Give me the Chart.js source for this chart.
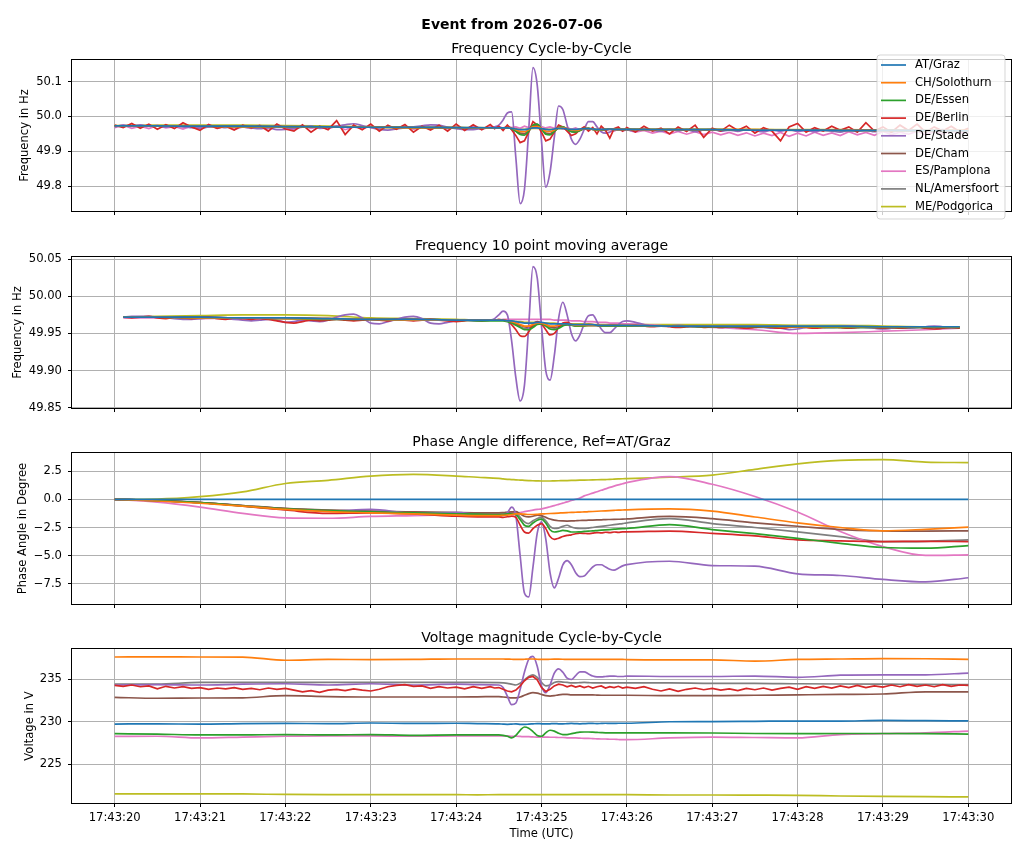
<!DOCTYPE html>
<html>
<head>
<meta charset="utf-8">
<script src="https://cdn.jsdelivr.net/npm/chart.js@4.4.1/dist/chart.umd.min.js"></script>
<style>
  html, body { margin: 0; padding: 0; background: #fff; }
  body { width: 1024px; height: 853px; position: relative; overflow: hidden; }
  canvas { position: absolute; left: 0; }
</style>
</head>
<body>
<canvas id="c1" width="1024" height="224" style="top:0px"></canvas>
<canvas id="c2" width="1024" height="194" style="top:227px"></canvas>
<canvas id="c3" width="1024" height="194" style="top:423px"></canvas>
<canvas id="c4" width="1024" height="234" style="top:619px"></canvas>
<script>
// stations, in plotting order
var STATIONS = ['AT/Graz', 'CH/Solothurn', 'DE/Essen', 'DE/Berlin', 'DE/Stade',
                'DE/Cham', 'ES/Pamplona', 'NL/Amersfoort', 'ME/Podgorica'];

// time in seconds after 17:43:00
var TICK_SECONDS = [20, 21, 22, 23, 24, 25, 26, 27, 28, 29, 30];
var TICK_LABELS = ['17:43:20', '17:43:21', '17:43:22', '17:43:23', '17:43:24', '17:43:25',
                   '17:43:26', '17:43:27', '17:43:28', '17:43:29', '17:43:30'];

var TIME_FINE = [
  20.0, 20.1, 20.2, 20.3, 20.4, 20.5, 20.6, 20.7, 20.8, 20.9,
  21.0, 21.1, 21.2, 21.3, 21.4, 21.5, 21.6, 21.7, 21.8, 21.9,
  22.0, 22.1, 22.2, 22.3, 22.4, 22.5, 22.6, 22.7, 22.8, 22.9,
  23.0, 23.1, 23.2, 23.3, 23.4, 23.5, 23.6, 23.7, 23.8, 23.9,
  24.0, 24.1, 24.2, 24.3, 24.4,
  24.45, 24.5, 24.55, 24.6, 24.65, 24.7, 24.75, 24.8, 24.85, 24.9, 24.95,
  25.0, 25.05, 25.1, 25.15, 25.2, 25.25, 25.3, 25.35, 25.4, 25.45,
  25.5, 25.55, 25.6, 25.65, 25.7, 25.75, 25.8, 25.85, 25.9, 25.95,
  26.0, 26.1, 26.2, 26.3, 26.4, 26.5, 26.6, 26.7, 26.8, 26.9,
  27.0, 27.1, 27.2, 27.3, 27.4, 27.5, 27.6, 27.7, 27.8, 27.9,
  28.0, 28.1, 28.2, 28.3, 28.4, 28.5, 28.6, 28.7, 28.8, 28.9,
  29.0, 29.1, 29.2, 29.3, 29.4, 29.5, 29.6, 29.7, 29.8, 29.9,
  30.0];

var TIME_COARSE = [
  20, 20.5, 21, 21.5, 22, 22.5, 23, 23.5, 24, 24.25,
  24.5, 24.55, 24.6, 24.65, 24.7, 24.75, 24.8, 24.85, 24.9, 24.95,
  25.0, 25.05, 25.1, 25.15, 25.2, 25.25, 25.3, 25.35, 25.4, 25.45,
  25.5, 25.55, 25.6, 25.65, 25.7, 25.75, 25.8, 25.85, 25.9, 25.95,
  26, 26.5, 27, 27.5, 28, 28.5, 29, 29.5, 30];

var TIME_MA = [
  20.1, 20.5, 21, 21.5, 22, 22.5, 23, 23.5, 24, 24.25,
  24.5, 24.55, 24.6, 24.65, 24.7, 24.75, 24.8, 24.85, 24.9, 24.95,
  25.0, 25.05, 25.1, 25.15, 25.2, 25.25, 25.3, 25.35, 25.4, 25.45,
  25.5, 25.55, 25.6, 25.65, 25.7, 25.75, 25.8, 25.85, 25.9, 25.95,
  26, 26.5, 27, 27.5, 28, 28.5, 29, 29.5, 29.9];

// ---- Frequency cycle-by-cycle (Hz)
var F1_GRAZ = [
  49.973, 49.973, 49.972, 49.972, 49.971, 49.970, 49.969, 49.969, 49.968, 49.968,
  49.967, 49.967, 49.967, 49.966, 49.964, 49.962, 49.962, 49.964, 49.967, 49.967,
  49.965, 49.963, 49.962, 49.964, 49.966, 49.966, 49.964, 49.963, 49.963, 49.964,
  49.965, 49.965, 49.964, 49.963, 49.963, 49.963, 49.964, 49.963, 49.963, 49.963,
  49.963, 49.962, 49.962, 49.961, 49.961, 49.960, 49.960, 49.960, 49.959];
var F1_SOLOTHURN = [
  49.972, 49.973, 49.972, 49.971, 49.971, 49.970, 49.969, 49.968, 49.968, 49.967,
  49.967, 49.967, 49.968, 49.966, 49.962, 49.957, 49.956, 49.962, 49.970, 49.971,
  49.966, 49.958, 49.957, 49.961, 49.967, 49.968, 49.965, 49.961, 49.960, 49.962,
  49.965, 49.965, 49.964, 49.962, 49.962, 49.963, 49.964, 49.963, 49.963, 49.963,
  49.963, 49.962, 49.962, 49.962, 49.961, 49.961, 49.960, 49.960, 49.960];
var F1_ESSEN = [
  49.973, 49.972, 49.972, 49.971, 49.970, 49.970, 49.969, 49.968, 49.968, 49.967,
  49.967, 49.967, 49.968, 49.965, 49.957, 49.948, 49.946, 49.958, 49.975, 49.978,
  49.964, 49.949, 49.947, 49.957, 49.968, 49.970, 49.963, 49.956, 49.955, 49.960,
  49.965, 49.966, 49.963, 49.961, 49.961, 49.963, 49.964, 49.963, 49.963, 49.963,
  49.963, 49.962, 49.962, 49.961, 49.961, 49.960, 49.960, 49.959, 49.959];
var F1_BERLIN = [
  49.975, 49.968, 49.980, 49.966, 49.978, 49.963, 49.976, 49.965, 49.982, 49.970,
  49.960, 49.977, 49.966, 49.972, 49.961, 49.975, 49.967, 49.974, 49.958, 49.978,
  49.964, 49.958, 49.976, 49.955, 49.972, 49.962, 49.988, 49.948, 49.975, 49.962,
  49.978, 49.958, 49.975, 49.963, 49.977, 49.955, 49.972, 49.961, 49.975, 49.958,
  49.978, 49.960, 49.976, 49.962, 49.977,
  49.965, 49.972, 49.960, 49.975, 49.962, 49.945, 49.925, 49.930, 49.955, 49.985, 49.975,
  49.955, 49.930, 49.935, 49.955, 49.975, 49.970, 49.958, 49.945, 49.950, 49.962,
  49.970, 49.958, 49.968, 49.950, 49.972, 49.960, 49.938, 49.965, 49.970, 49.958,
  49.968, 49.955, 49.972, 49.958, 49.966, 49.950, 49.970, 49.957, 49.975, 49.940,
  49.966, 49.958, 49.975, 49.960, 49.972, 49.952, 49.968, 49.958, 49.930, 49.970,
  49.980, 49.955, 49.968, 49.958, 49.972, 49.960, 49.970, 49.955, 49.982, 49.958,
  49.970, 49.955, 49.975, 49.960, 49.978, 49.955, 49.970, 49.958, 49.972, 49.956,
  49.966];
var F1_STADE = [
  49.970, 49.975, 49.973, 49.976, 49.972, 49.974, 49.969, 49.973, 49.970, 49.968,
  49.966, 49.970, 49.971, 49.968, 49.972, 49.970, 49.967, 49.965, 49.968, 49.962,
  49.963, 49.966, 49.969, 49.972, 49.966, 49.968, 49.972, 49.976, 49.979, 49.974,
  49.968, 49.963, 49.961, 49.964, 49.967, 49.970, 49.973, 49.976, 49.975, 49.969,
  49.965, 49.962, 49.962, 49.966, 49.968,
  49.970, 49.975, 49.990, 50.010, 50.013, 49.880, 49.750, 49.790, 49.960, 50.140, 50.090,
  49.930, 49.797, 49.840, 49.940, 50.030, 50.020, 49.975, 49.935, 49.920, 49.935,
  49.962, 49.985, 49.985, 49.970, 49.956, 49.952, 49.955, 49.962, 49.966, 49.963,
  49.962, 49.958, 49.964, 49.960, 49.957, 49.963, 49.959, 49.962, 49.956, 49.961,
  49.963, 49.958, 49.961, 49.957, 49.962, 49.959, 49.956, 49.961, 49.958, 49.962,
  49.957, 49.960, 49.956, 49.961, 49.958, 49.955, 49.960, 49.957, 49.961, 49.956,
  49.959, 49.955, 49.960, 49.957, 49.961, 49.956, 49.959, 49.962, 49.958, 49.960,
  49.957];
var F1_CHAM = [
  49.972, 49.972, 49.971, 49.971, 49.970, 49.969, 49.969, 49.968, 49.967, 49.967,
  49.967, 49.967, 49.968, 49.965, 49.959, 49.952, 49.951, 49.960, 49.973, 49.975,
  49.965, 49.952, 49.951, 49.958, 49.967, 49.969, 49.964, 49.957, 49.956, 49.960,
  49.964, 49.965, 49.963, 49.961, 49.961, 49.962, 49.963, 49.963, 49.962, 49.962,
  49.962, 49.962, 49.961, 49.961, 49.960, 49.960, 49.960, 49.959, 49.959];
var F1_PAMPLONA = [
  49.968, 49.975, 49.966, 49.972, 49.965, 49.974, 49.967, 49.971, 49.964, 49.973,
  49.968, 49.975, 49.966, 49.972, 49.963, 49.970, 49.966, 49.973, 49.965, 49.971,
  49.968, 49.962, 49.972, 49.966, 49.970, 49.964, 49.973, 49.962, 49.970, 49.965,
  49.972, 49.964, 49.971, 49.966, 49.973, 49.963, 49.970, 49.966, 49.972, 49.964,
  49.970, 49.965, 49.971, 49.963, 49.970,
  49.966, 49.971, 49.967, 49.972, 49.968, 49.970, 49.966, 49.972, 49.968, 49.970, 49.966,
  49.971, 49.967, 49.970, 49.966, 49.969, 49.964, 49.968, 49.963, 49.967, 49.962,
  49.968, 49.961, 49.966, 49.960, 49.965, 49.959, 49.964, 49.958, 49.963, 49.958,
  49.962, 49.955, 49.960, 49.952, 49.958, 49.950, 49.957, 49.949, 49.956, 49.948,
  49.955, 49.947, 49.954, 49.946, 49.953, 49.944, 49.952, 49.945, 49.954, 49.943,
  49.952, 49.944, 49.955, 49.946, 49.953, 49.945, 49.956, 49.947, 49.954, 49.946,
  49.957, 49.948, 49.955, 49.949, 49.958, 49.947, 49.956, 49.950, 49.958, 49.952,
  49.957];
var F1_AMERSFOORT = [
  49.973, 49.972, 49.972, 49.971, 49.971, 49.970, 49.969, 49.969, 49.968, 49.967,
  49.967, 49.967, 49.968, 49.965, 49.958, 49.950, 49.949, 49.959, 49.974, 49.977,
  49.965, 49.950, 49.949, 49.957, 49.968, 49.970, 49.964, 49.957, 49.955, 49.960,
  49.965, 49.966, 49.963, 49.961, 49.961, 49.962, 49.964, 49.963, 49.963, 49.962,
  49.963, 49.962, 49.962, 49.961, 49.961, 49.960, 49.960, 49.959, 49.959];
var F1_PODGORICA = [
  49.974, 49.975, 49.975, 49.975, 49.974, 49.972, 49.970, 49.969, 49.968, 49.968,
  49.967, 49.967, 49.967, 49.966, 49.965, 49.963, 49.963, 49.964, 49.966, 49.966,
  49.965, 49.964, 49.963, 49.964, 49.965, 49.965, 49.964, 49.964, 49.963, 49.964,
  49.964, 49.964, 49.964, 49.963, 49.963, 49.963, 49.963, 49.963, 49.963, 49.963,
  49.963, 49.963, 49.963, 49.963, 49.962, 49.962, 49.961, 49.961, 49.960];

// ---- Frequency 10 point moving average (Hz)
var F2_GRAZ = [
  49.972, 49.972, 49.972, 49.971, 49.971, 49.970, 49.969, 49.969, 49.968, 49.968,
  49.968, 49.968, 49.967, 49.967, 49.966, 49.965, 49.964, 49.964, 49.964, 49.965,
  49.965, 49.964, 49.963, 49.963, 49.963, 49.963, 49.963, 49.962, 49.962, 49.962,
  49.962, 49.962, 49.962, 49.961, 49.961, 49.961, 49.961, 49.961, 49.961, 49.961,
  49.961, 49.960, 49.960, 49.960, 49.960, 49.960, 49.959, 49.959, 49.959];
var F2_SOLOTHURN = [
  49.972, 49.972, 49.971, 49.971, 49.970, 49.970, 49.969, 49.968, 49.968, 49.968,
  49.968, 49.968, 49.967, 49.966, 49.964, 49.962, 49.960, 49.960, 49.962, 49.964,
  49.964, 49.962, 49.960, 49.960, 49.961, 49.963, 49.963, 49.962, 49.961, 49.961,
  49.961, 49.961, 49.961, 49.961, 49.961, 49.961, 49.961, 49.961, 49.961, 49.961,
  49.961, 49.960, 49.960, 49.960, 49.959, 49.959, 49.959, 49.959, 49.959];
var F2_ESSEN = [
  49.972, 49.972, 49.971, 49.971, 49.970, 49.969, 49.969, 49.968, 49.968, 49.967,
  49.967, 49.967, 49.966, 49.964, 49.961, 49.958, 49.955, 49.955, 49.958, 49.962,
  49.963, 49.960, 49.956, 49.955, 49.957, 49.960, 49.962, 49.961, 49.960, 49.960,
  49.960, 49.961, 49.961, 49.961, 49.960, 49.960, 49.960, 49.960, 49.960, 49.960,
  49.960, 49.960, 49.959, 49.959, 49.959, 49.958, 49.958, 49.958, 49.958];
var F2_BERLIN = [
  null, 49.972, 49.971, 49.972, 49.973, 49.971, 49.970, 49.972, 49.971, 49.970,
  49.971, 49.972, 49.970, 49.969, 49.971, 49.970, 49.969, 49.970, 49.969, 49.967,
  49.965, 49.964, 49.966, 49.968, 49.967, 49.968, 49.969, 49.968, 49.967, 49.968,
  49.969, 49.968, 49.967, 49.969, 49.968, 49.967, 49.968, 49.969, 49.968, 49.967,
  49.966, 49.967, 49.968, 49.967, 49.968,
  49.968, 49.969, 49.968, 49.967, 49.962, 49.955, 49.947, 49.946, 49.952, 49.962, 49.966,
  49.963, 49.955, 49.948, 49.950, 49.958, 49.964, 49.965, 49.962, 49.960, 49.960,
  49.961, 49.962, 49.962, 49.961, 49.960, 49.960, 49.961, 49.961, 49.960, 49.960,
  49.960, 49.961, 49.960, 49.959, 49.960, 49.959, 49.958, 49.959, 49.960, 49.958,
  49.959, 49.958, 49.959, 49.958, 49.957, 49.958, 49.959, 49.958, 49.957, 49.958,
  49.959, 49.958, 49.957, 49.958, 49.959, 49.958, 49.957, 49.958, 49.959, 49.958,
  49.957, 49.958, 49.957, 49.958, 49.959, 49.957, 49.956, 49.957, 49.958, 49.957,
  null];
var F2_STADE = [
  null, 49.972, 49.973, 49.973, 49.973, 49.972, 49.971, 49.970, 49.969, 49.969,
  49.970, 49.971, 49.971, 49.970, 49.969, 49.968, 49.967, 49.968, 49.969, 49.968,
  49.965, 49.966, 49.968, 49.967, 49.966, 49.968, 49.972, 49.975, 49.976, 49.971,
  49.964, 49.963, 49.966, 49.969, 49.972, 49.973, 49.970, 49.964, 49.963, 49.965,
  49.967, 49.968, 49.967, 49.967, 49.968,
  49.970, 49.975, 49.980, 49.975, 49.940, 49.890, 49.859, 49.880, 49.960, 50.040, 50.025,
  49.960, 49.900, 49.887, 49.920, 49.970, 49.992, 49.975, 49.950, 49.940, 49.948,
  49.963, 49.974, 49.975, 49.966, 49.956, 49.951, 49.951, 49.956, 49.962, 49.966,
  49.967, 49.965, 49.962, 49.960, 49.960, 49.960, 49.961, 49.960, 49.960, 49.959,
  49.959, 49.958, 49.959, 49.958, 49.959, 49.958, 49.958, 49.957, 49.957, 49.955,
  49.956, 49.958, 49.959, 49.958, 49.958, 49.959, 49.960, 49.959, 49.958, 49.957,
  49.956, 49.957, 49.958, 49.957, 49.958, 49.959, 49.960, 49.959, 49.958, 49.958,
  null];
var F2_CHAM = [
  49.972, 49.972, 49.972, 49.971, 49.971, 49.970, 49.969, 49.969, 49.968, 49.968,
  49.968, 49.968, 49.967, 49.966, 49.963, 49.961, 49.959, 49.958, 49.960, 49.963,
  49.964, 49.962, 49.959, 49.958, 49.959, 49.961, 49.962, 49.962, 49.961, 49.961,
  49.961, 49.961, 49.961, 49.961, 49.960, 49.960, 49.960, 49.960, 49.960, 49.960,
  49.960, 49.960, 49.959, 49.959, 49.959, 49.958, 49.958, 49.958, 49.958];
var F2_PAMPLONA = [
  49.971, 49.971, 49.970, 49.971, 49.970, 49.970, 49.969, 49.968, 49.968, 49.968,
  49.968, 49.969, 49.969, 49.969, 49.969, 49.969, 49.969, 49.969, 49.969, 49.969,
  49.969, 49.969, 49.969, 49.968, 49.968, 49.968, 49.968, 49.967, 49.967, 49.967,
  49.966, 49.966, 49.966, 49.965, 49.965, 49.965, 49.964, 49.964, 49.964, 49.963,
  49.963, 49.960, 49.958, 49.955, 49.950, 49.951, 49.953, 49.955, 49.957];
var F2_AMERSFOORT = [
  49.972, 49.972, 49.972, 49.971, 49.971, 49.970, 49.969, 49.969, 49.968, 49.968,
  49.968, 49.968, 49.967, 49.965, 49.962, 49.959, 49.957, 49.957, 49.960, 49.963,
  49.964, 49.961, 49.958, 49.957, 49.958, 49.961, 49.962, 49.962, 49.961, 49.961,
  49.961, 49.961, 49.961, 49.961, 49.960, 49.960, 49.960, 49.960, 49.960, 49.960,
  49.960, 49.960, 49.959, 49.959, 49.959, 49.958, 49.958, 49.958, 49.958];
var F2_PODGORICA = [
  49.972, 49.973, 49.974, 49.975, 49.975, 49.974, 49.971, 49.970, 49.969, 49.968,
  49.968, 49.968, 49.967, 49.967, 49.966, 49.966, 49.965, 49.965, 49.965, 49.965,
  49.964, 49.964, 49.964, 49.964, 49.963, 49.963, 49.963, 49.963, 49.963, 49.963,
  49.963, 49.963, 49.962, 49.962, 49.962, 49.962, 49.962, 49.962, 49.962, 49.962,
  49.962, 49.962, 49.962, 49.962, 49.961, 49.961, 49.960, 49.959, 49.959];

// ---- Phase angle difference, ref AT/Graz (degree)
var P3_GRAZ = [
  0, 0, 0, 0, 0, 0, 0, 0, 0, 0,
  0, 0, 0, 0, 0, 0, 0, 0, 0, 0,
  0, 0, 0, 0, 0, 0, 0, 0, 0, 0,
  0, 0, 0, 0, 0, 0, 0, 0, 0, 0,
  0, 0, 0, 0, 0, 0, 0, 0, 0];
var P3_SOLOTHURN = [
  0, -0.15, -0.35, -0.6, -0.9, -1.1, -1.2, -1.3, -1.4, -1.45,
  -1.45, -1.42, -1.4, -1.35, -1.3, -1.3, -1.32, -1.35, -1.35, -1.33,
  -1.3, -1.28, -1.26, -1.24, -1.22, -1.2, -1.18, -1.16, -1.15, -1.13,
  -1.12, -1.1, -1.08, -1.06, -1.04, -1.02, -1.0, -0.98, -0.96, -0.95,
  -0.93, -0.85, -1.05, -1.57, -2.09, -2.5, -2.79, -2.66, -2.47];
var P3_ESSEN = [
  0, -0.12, -0.3, -0.58, -0.85, -1.0, -1.12, -1.2, -1.28, -1.32,
  -1.35, -1.33, -1.3, -1.28, -1.35, -1.8, -2.3, -2.4, -2.1, -1.85,
  -1.75, -2.1, -2.7, -2.9, -2.85, -2.75, -2.8, -2.9, -2.9, -2.88,
  -2.85, -2.82, -2.8, -2.77, -2.74, -2.71, -2.68, -2.65, -2.62, -2.6,
  -2.59, -2.24, -2.68, -3.05, -3.46, -3.9, -4.27, -4.33, -4.1];
var P3_BERLIN = [
  0, -0.1, -0.3, -0.6, -0.95, -1.25, -1.2, -1.3, -1.5, -1.55,
  -1.55, -1.6, -1.55, -1.5, -1.6, -2.3, -2.9, -3.0, -2.6, -2.3,
  -2.15, -2.6, -3.3, -3.55, -3.45, -3.3, -3.2, -3.15, -3.05, -3.0,
  -3.02, -3.05, -3.0, -2.95, -2.98, -2.92, -2.95, -2.9, -2.93, -2.88,
  -2.88, -2.82, -3.02, -3.25, -3.6, -3.68, -3.75, -3.72, -3.75];
var P3_STADE = [
  0, -0.12, -0.3, -0.58, -0.9, -1.05, -0.9, -1.25, -1.15, -1.35,
  -1.45, -1.4, -1.2, -0.7, -1.5, -5.0, -8.3, -8.65, -6.0, -3.0,
  -2.0, -3.5, -6.5, -7.85, -7.0, -5.8, -5.44, -5.8, -6.5, -6.85,
  -6.8, -6.4, -6.0, -5.8, -5.8, -6.0, -6.2, -6.28, -6.1, -5.9,
  -5.79, -5.49, -5.87, -5.93, -6.6, -6.75, -7.1, -7.32, -6.95];
var P3_CHAM = [
  0, -0.12, -0.3, -0.55, -0.8, -0.95, -1.05, -1.12, -1.18, -1.2,
  -1.2, -1.18, -1.15, -1.12, -1.1, -1.3, -1.5, -1.55, -1.5, -1.4,
  -1.45, -1.6, -1.75, -1.85, -1.9, -1.92, -1.93, -1.92, -1.9, -1.88,
  -1.87, -1.85, -1.84, -1.83, -1.82, -1.8, -1.79, -1.78, -1.77, -1.76,
  -1.74, -1.52, -1.72, -2.09, -2.39, -2.68, -2.79, -2.82, -2.79];
var P3_PAMPLONA = [
  0, -0.26, -0.7, -1.25, -1.65, -1.68, -1.52, -1.45, -1.36, -1.3,
  -1.3, -1.29, -1.27, -1.25, -1.22, -1.17, -1.1, -1.03, -0.96, -0.9,
  -0.85, -0.76, -0.66, -0.56, -0.45, -0.34, -0.23, -0.11, 0.0, 0.12,
  0.3, 0.42, 0.55, 0.67, 0.8, 0.92, 1.05, 1.17, 1.28, 1.38,
  1.48, 2.0, 1.33, 0.25, -1.13, -2.85, -4.19, -4.97, -4.92];
var P3_AMERSFOORT = [
  0, -0.12, -0.3, -0.55, -0.82, -0.98, -1.08, -1.15, -1.2, -1.22,
  -1.22, -1.2, -1.18, -1.15, -1.2, -1.6, -2.0, -2.15, -1.9, -1.7,
  -1.6, -1.9, -2.4, -2.59, -2.55, -2.4, -2.3, -2.45, -2.55, -2.59,
  -2.59, -2.55, -2.5, -2.45, -2.4, -2.35, -2.3, -2.25, -2.2, -2.15,
  -2.09, -1.72, -2.15, -2.5, -2.88, -3.3, -3.75, -3.72, -3.6];
var P3_PODGORICA = [
  0, 0.02, 0.23, 0.65, 1.4, 1.68, 2.06, 2.2, 2.06, 1.95,
  1.85, 1.8, 1.77, 1.75, 1.72, 1.7, 1.68, 1.66, 1.64, 1.63,
  1.62, 1.62, 1.62, 1.63, 1.64, 1.65, 1.66, 1.67, 1.68, 1.69,
  1.7, 1.71, 1.72, 1.73, 1.74, 1.75, 1.76, 1.78, 1.8, 1.82,
  1.83, 1.95, 2.14, 2.65, 3.14, 3.45, 3.52, 3.3, 3.25];

// ---- Voltage magnitude cycle-by-cycle (V)
var V4_GRAZ = [
  229.73, 229.75, 229.72, 229.78, 229.8, 229.78, 229.85, 229.8, 229.82, 229.78,
  229.75, 229.72, 229.7, 229.72, 229.75, 229.7, 229.68, 229.72, 229.75, 229.78,
  229.76, 229.74, 229.76, 229.78, 229.76, 229.75, 229.78, 229.8, 229.78, 229.76,
  229.78, 229.8, 229.8, 229.78, 229.8, 229.82, 229.8, 229.8, 229.82, 229.82,
  229.82, 230.0, 230.02, 230.05, 230.08, 230.08, 230.15, 230.12, 230.1];
var V4_SOLOTHURN = [
  237.58, 237.6, 237.58, 237.57, 237.2, 237.3, 237.28, 237.3, 237.35, 237.35,
  237.35, 237.35, 237.33, 237.32, 237.3, 237.3, 237.32, 237.35, 237.35, 237.32,
  237.3, 237.3, 237.32, 237.33, 237.33, 237.32, 237.3, 237.3, 237.3, 237.3,
  237.3, 237.3, 237.3, 237.3, 237.3, 237.3, 237.3, 237.3, 237.3, 237.3,
  237.28, 237.25, 237.25, 237.1, 237.3, 237.35, 237.4, 237.38, 237.3];
var V4_ESSEN = [
  228.6, 228.55, 228.45, 228.45, 228.5, 228.45, 228.5, 228.4, 228.45, 228.45,
  228.45, 228.4, 228.3, 228.1, 228.4, 229.0, 229.38, 229.25, 228.85, 228.4,
  228.3, 228.7, 229.0, 228.9, 228.65, 228.5, 228.5, 228.6, 228.7, 228.78,
  228.8, 228.8, 228.78, 228.75, 228.72, 228.7, 228.7, 228.7, 228.7, 228.7,
  228.7, 228.7, 228.68, 228.62, 228.6, 228.62, 228.62, 228.6, 228.55];
var V4_BERLIN = [
  234.25, 234.15, 234.3, 234.1, 234.2, 233.85, 234.15, 233.95, 234.1, 233.9,
  234.0, 233.8, 233.95, 233.85, 234.0, 233.8, 233.9, 233.75, 233.95, 233.8,
  233.9, 233.7, 233.5, 233.65, 233.45, 233.7, 233.8, 233.65, 233.85, 233.7,
  233.6, 233.8, 234.1, 234.25, 234.35, 234.15, 234.2, 233.9, 234.1, 233.95,
  234.05, 233.85, 234.1, 233.9, 234.1,
  233.95, 234.0, 233.8, 233.6, 233.5, 233.7, 234.2, 234.8, 235.2, 235.3, 234.9,
  234.0, 233.55, 233.8, 234.2, 234.4, 234.3, 234.1, 234.25, 234.05, 234.2,
  234.0, 234.15, 233.95, 234.1, 234.2, 233.95, 234.1, 234.0, 234.15, 233.95,
  234.05, 233.9, 234.1, 233.8, 233.6, 233.85, 233.55, 233.8, 233.95, 233.75,
  233.9, 233.7, 233.85, 233.65, 233.9, 233.75, 233.95, 233.7, 233.9, 234.05,
  233.8, 234.1, 233.9, 234.15, 233.95, 234.2, 234.0, 234.25, 234.0, 234.2,
  234.05, 234.3, 234.1, 234.35, 234.15, 234.3, 234.1, 234.35, 234.15, 234.3,
  234.25];
var V4_STADE = [
  234.3, 234.35, 234.3, 234.4, 234.45, 234.3, 234.45, 234.3, 234.4, 234.35,
  234.3, 234.0, 233.0, 232.0, 232.2, 233.8, 235.8, 237.3, 237.65, 236.5,
  234.2, 233.4, 234.3, 235.7, 236.2, 235.8, 235.1, 234.95, 235.4, 235.85,
  235.85, 235.6, 235.35, 235.25, 235.25, 235.3, 235.35, 235.35, 235.3, 235.3,
  235.35, 235.3, 235.3, 235.35, 235.2, 235.45, 235.5, 235.5, 235.7];
var V4_CHAM = [
  232.85, 232.75, 232.78, 232.8, 233.05, 232.95, 232.9, 232.9, 232.9, 232.92,
  232.95, 232.9, 232.85, 232.8, 232.8, 232.9, 233.1, 233.3, 233.4, 233.35,
  233.2, 233.05, 233.0, 233.05, 233.15, 233.2, 233.2, 233.15, 233.15, 233.15,
  233.15, 233.15, 233.15, 233.12, 233.1, 233.1, 233.1, 233.1, 233.1, 233.1,
  233.1, 233.05, 233.05, 233.1, 233.15, 233.2, 233.25, 233.5, 233.5];
var V4_PAMPLONA = [
  228.28, 228.3, 228.1, 228.2, 228.3, 228.35, 228.35, 228.3, 228.35, 228.35,
  228.35, 228.35, 228.35, 228.3, 228.3, 228.28, 228.25, 228.25, 228.22, 228.2,
  228.2, 228.2, 228.18, 228.18, 228.15, 228.15, 228.12, 228.1, 228.1, 228.08,
  228.05, 228.05, 228.02, 228.0, 227.98, 227.98, 227.95, 227.95, 227.92, 227.9,
  227.9, 228.1, 228.2, 228.15, 228.1, 228.5, 228.6, 228.7, 228.9];
var V4_AMERSFOORT = [
  234.42, 234.42, 234.6, 234.6, 234.6, 234.62, 234.62, 234.6, 234.6, 234.6,
  234.58, 234.55, 234.5, 234.4, 234.3, 234.5, 234.9, 235.3, 235.5, 235.2,
  234.6, 234.2, 234.3, 234.6, 234.7, 234.65, 234.6, 234.55, 234.55, 234.58,
  234.6, 234.58, 234.55, 234.55, 234.55, 234.55, 234.55, 234.55, 234.55, 234.55,
  234.55, 234.55, 234.5, 234.5, 234.45, 234.42, 234.4, 234.38, 234.35];
var V4_PODGORICA = [
  221.56, 221.56, 221.55, 221.54, 221.48, 221.45, 221.45, 221.45, 221.45, 221.44,
  221.45, 221.45, 221.45, 221.45, 221.45, 221.45, 221.46, 221.46, 221.46, 221.45,
  221.45, 221.45, 221.45, 221.45, 221.45, 221.45, 221.45, 221.45, 221.45, 221.45,
  221.45, 221.45, 221.45, 221.45, 221.45, 221.45, 221.45, 221.45, 221.45, 221.45,
  221.45, 221.42, 221.42, 221.4, 221.38, 221.3, 221.25, 221.22, 221.2];

// y tick values and their labels
var F1_TICKS = [49.8, 49.9, 50.0, 50.1];
var F1_TICK_LABELS = ['49.8', '49.9', '50.0', '50.1'];
var F2_TICKS = [49.85, 49.90, 49.95, 50.00, 50.05];
var F2_TICK_LABELS = ['49.85', '49.90', '49.95', '50.00', '50.05'];
var P3_TICKS = [-7.5, -5.0, -2.5, 0.0, 2.5];
var P3_TICK_LABELS = ['\u22127.5', '\u22125.0', '\u22122.5', '0.0', '2.5'];
var V4_TICKS = [225, 230, 235];
var V4_TICK_LABELS = ['225', '230', '235'];

// ---------------------------------------------------------------
var COLORS = ['#1f77b4', '#ff7f0e', '#2ca02c', '#d62728', '#9467bd',
              '#8c564b', '#e377c2', '#7f7f7f', '#bcbd22'];
var FONT = '"DejaVu Sans", "Liberation Sans", sans-serif';
Chart.defaults.font.family = FONT;

function pts(times, vals) {
  var out = [];
  for (var i = 0; i < times.length; i++) {
    if (vals[i] !== null) out.push({x: times[i], y: vals[i]});
  }
  return out;
}

function drawLegend(chart, a) {
  var ctx = chart.ctx;
  var x0 = a.right - 134, y0 = a.top - 5, w = 128, h = 164;
  ctx.beginPath();
  ctx.roundRect(x0, y0, w, h, 3);
  ctx.fillStyle = 'rgba(255,255,255,0.8)';
  ctx.fill();
  ctx.strokeStyle = 'rgba(204,204,204,0.8)';
  ctx.lineWidth = 1;
  ctx.stroke();
  ctx.font = '11.6px ' + FONT;
  ctx.textAlign = 'left';
  ctx.textBaseline = 'middle';
  chart.data.datasets.forEach(function(ds, i) {
    var y = y0 + 10 + i * 17.7;
    ctx.strokeStyle = ds.borderColor;
    ctx.lineWidth = 1.7;
    ctx.beginPath();
    ctx.moveTo(x0 + 4, y);
    ctx.lineTo(x0 + 29, y);
    ctx.stroke();
    ctx.fillStyle = '#000';
    ctx.fillText(ds.label, x0 + 38, y);
  });
}

// frame, axes title, optional figure title and legend
var decor = {
  id: 'decor',
  afterDatasetsDraw: function(chart, args, opts) {
    var ctx = chart.ctx, a = chart.chartArea;
    ctx.save();
    ctx.strokeStyle = '#000';
    ctx.lineWidth = 1;
    ctx.strokeRect(Math.round(a.left) - 0.5, Math.round(a.top) - 0.5,
                   Math.round(a.right - a.left) + 1, Math.round(a.bottom - a.top) + 1);
    ctx.fillStyle = '#000';
    ctx.textAlign = 'center';
    ctx.textBaseline = 'alphabetic';
    ctx.font = '14px ' + FONT;
    ctx.fillText(opts.title, (a.left + a.right) / 2, a.top - 7);
    if (opts.suptitle) {
      ctx.font = 'bold 14px ' + FONT;
      ctx.fillText(opts.suptitle, chart.width / 2, 28.7);
    }
    if (opts.legend) drawLegend(chart, a);
    ctx.restore();
  }
};

function makeChart(id, cfg) {
  var datasets = cfg.series.map(function(s, i) {
    // noisy per-cycle traces are drawn as plain polylines
    var noisy = (s[1] === F1_BERLIN || s[1] === F1_PAMPLONA || s[1] === V4_BERLIN);
    return {
      label: STATIONS[i],
      data: pts(s[0], s[1]),
      borderColor: COLORS[i],
      backgroundColor: COLORS[i],
      borderWidth: 1.7,
      pointRadius: 0,
      fill: false,
      tension: 0,
      cubicInterpolationMode: noisy ? 'default' : 'monotone'
    };
  });
  var tickFont = {family: FONT, size: 11.6};
  return new Chart(document.getElementById(id), {
    type: 'line',
    data: {datasets: datasets},
    plugins: [decor],
    options: {
      responsive: false,
      animation: false,
      devicePixelRatio: 1,
      layout: {padding: {left: 0, right: 13, top: cfg.padTop, bottom: 0}},
      plugins: {
        legend: {display: false},
        tooltip: {enabled: false},
        decor: {title: cfg.title, suptitle: cfg.suptitle, legend: cfg.legend}
      },
      scales: {
        x: {
          type: 'linear', min: 19.5, max: 30.5,
          afterBuildTicks: function(s) { s.ticks = TICK_SECONDS.map(function(v) { return {value: v}; }); },
          afterFit: function(s) { s.height = cfg.xHeight; },
          ticks: {
            display: cfg.xLabels, autoSkip: false, maxRotation: 0, padding: 4,
            color: '#000', font: tickFont,
            callback: function(v, i) { return TICK_LABELS[i]; }
          },
          grid: {color: '#b0b0b0', lineWidth: 1, drawTicks: true, tickLength: 4, tickColor: '#000'},
          border: {display: false},
          title: {display: cfg.xLabels, text: 'Time (UTC)', color: '#000', font: tickFont,
                  padding: {top: 0, bottom: 12.3}}
        },
        y: {
          type: 'linear', min: cfg.ymin, max: cfg.ymax,
          afterBuildTicks: function(s) { s.ticks = cfg.yticks.map(function(v) { return {value: v}; }); },
          afterFit: function(s) { s.width = 72; },
          ticks: {
            padding: 6, color: '#000', font: tickFont,
            callback: function(v, i) { return cfg.ylabels[i]; }
          },
          grid: {color: '#b0b0b0', lineWidth: 1, drawTicks: true, tickLength: 4, tickColor: '#000'},
          border: {display: false},
          title: {display: true, text: cfg.ylabel, color: '#000', font: tickFont,
                  padding: {top: cfg.ylabelPad, bottom: 0}}
        }
      }
    }
  });
}

makeChart('c1', {
  title: 'Frequency Cycle-by-Cycle', suptitle: 'Event from 2026-07-06', legend: true,
  padTop: 60, xHeight: 10, xLabels: false,
  ymin: 49.7285, ymax: 50.162, yticks: F1_TICKS, ylabels: F1_TICK_LABELS,
  ylabel: 'Frequency in Hz', ylabelPad: 18,
  series: [[TIME_COARSE, F1_GRAZ], [TIME_COARSE, F1_SOLOTHURN], [TIME_COARSE, F1_ESSEN],
           [TIME_FINE, F1_BERLIN], [TIME_FINE, F1_STADE], [TIME_COARSE, F1_CHAM],
           [TIME_FINE, F1_PAMPLONA], [TIME_COARSE, F1_AMERSFOORT], [TIME_COARSE, F1_PODGORICA]]
});
makeChart('c2', {
  title: 'Frequency 10 point moving average',
  padTop: 30, xHeight: 10, xLabels: false,
  ymin: 49.8495, ymax: 50.053, yticks: F2_TICKS, ylabels: F2_TICK_LABELS,
  ylabel: 'Frequency in Hz', ylabelPad: 11.4,
  series: [[TIME_MA, F2_GRAZ], [TIME_MA, F2_SOLOTHURN], [TIME_MA, F2_ESSEN],
           [TIME_FINE, F2_BERLIN], [TIME_FINE, F2_STADE], [TIME_MA, F2_CHAM],
           [TIME_MA, F2_PAMPLONA], [TIME_MA, F2_AMERSFOORT], [TIME_MA, F2_PODGORICA]]
});
makeChart('c3', {
  title: 'Phase Angle difference, Ref=AT/Graz',
  padTop: 30, xHeight: 10, xLabels: false,
  ymin: -9.28, ymax: 4.1, yticks: P3_TICKS, ylabels: P3_TICK_LABELS,
  ylabel: 'Phase Angle in Degree', ylabelPad: 15.7,
  series: [[TIME_COARSE, P3_GRAZ], [TIME_COARSE, P3_SOLOTHURN], [TIME_COARSE, P3_ESSEN],
           [TIME_COARSE, P3_BERLIN], [TIME_COARSE, P3_STADE], [TIME_COARSE, P3_CHAM],
           [TIME_COARSE, P3_PAMPLONA], [TIME_COARSE, P3_AMERSFOORT], [TIME_COARSE, P3_PODGORICA]]
});
makeChart('c4', {
  title: 'Voltage magnitude Cycle-by-Cycle',
  padTop: 30, xHeight: 50, xLabels: true,
  ymin: 220.48, ymax: 238.52, yticks: V4_TICKS, ylabels: V4_TICK_LABELS,
  ylabel: 'Voltage in V', ylabelPad: 23,
  series: [[TIME_COARSE, V4_GRAZ], [TIME_COARSE, V4_SOLOTHURN], [TIME_COARSE, V4_ESSEN],
           [TIME_FINE, V4_BERLIN], [TIME_COARSE, V4_STADE], [TIME_COARSE, V4_CHAM],
           [TIME_COARSE, V4_PAMPLONA], [TIME_COARSE, V4_AMERSFOORT], [TIME_COARSE, V4_PODGORICA]]
});
</script>
</body>
</html>
